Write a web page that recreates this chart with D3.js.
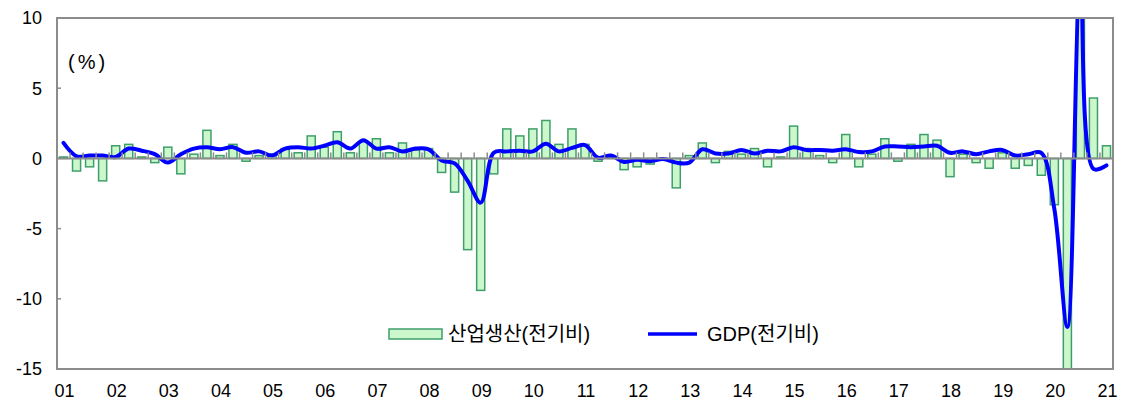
<!DOCTYPE html>
<html>
<head>
<meta charset="utf-8">
<script src="https://cdn.jsdelivr.net/npm/d3@7"></script>
<style>
  body { margin: 0; background: #fff; }
  text { font-family: "Liberation Sans", Arial, "Noto Sans CJK KR", sans-serif; }
</style>
</head>
<body>
<div id="chart"></div>
<script>
// year tick labels; one category per quarter from 2001Q1 to 2021Q1
const years = ['01','02','03','04','05','06','07','08','09','10','11','12','13','14','15','16','17','18','19','20','21'];
const quarters = years.flatMap(y => y === '21' ? [y + 'Q1'] : [1, 2, 3, 4].map(q => y + 'Q' + q));

// industrial production, q/q (%)
const ipValues = [
  0.1, -0.9, -0.6, -1.6,   0.9, 1.0, 0.1, -0.3,   0.8, -1.1, 0.3, 2.0,   0.2, 1.0, -0.2, 0.2,
  0.3, 0.7, 0.4, 1.6,      0.8, 1.9, 0.4, 1.2,    1.4, 0.4, 1.1, 0.6,    0.7, -1.0, -2.4, -6.5,
  -9.4, -1.1, 2.1, 1.6,    2.1, 2.7, 1.0, 2.1,    1.0, -0.2, 0.1, -0.8,  -0.6, -0.4, -0.1, -2.1,
  0.2, 1.1, -0.3, 0.5,     0.3, 0.7, -0.6, 0.1,   2.3, 0.7, 0.2, -0.3,   1.7, -0.6, 0.3, 1.4,
  -0.2, 1.0, 1.7, 1.3,     -1.3, 0.3, -0.3, -0.7, 0.4, -0.7, -0.5, -1.2, -3.3, -16.4, 14.5, 4.3,
  0.9
];

// GDP, q/q (%)
const gdpValues = [
  1.1, 0.15, 0.2, 0.2,     0.1, 0.7, 0.55, 0.3,   -0.3, 0.3, 0.7, 0.8,   0.65, 0.8, 0.4, 0.5,
  0.2, 0.7, 0.8, 0.7,      0.9, 1.15, 0.7, 1.3,   0.7, 0.8, 0.5, 0.7,    0.65, -0.15, -0.35, -1.6,
  -3.15, 0.4, 0.5, 0.55,   0.5, 1.05, 0.5, 0.75,  0.95, 0.05, 0.2, -0.25, -0.1, -0.2, -0.05, -0.3,
  -0.3, 0.65, 0.35, 0.35,  0.6, 0.35, 0.55, 0.5,  0.8, 0.6, 0.6, 0.55,   0.65, 0.45, 0.5, 0.85,
  0.85, 0.8, 0.85, 0.9,    0.4, 0.5, 0.3, 0.5,    0.6, 0.2, 0.3, 0.4,    -3.6, -12.0, 12.5, -0.75,
  -0.5
];

const yTicks = [10, 5, 0, -5, -10, -15];
const legendLabels = ['산업생산(전기비)', 'GDP(전기비)'];

const width = 1125;
const height = 403;
const margin = { top: 18, right: 12, bottom: 34, left: 57 };

const barFill = '#ccf7cc';
const barStroke = '#3f9f6b';
const lineColor = '#0000ff';
const axisColor = '#8c8c8c';

const x = d3.scaleBand()
  .domain(quarters)
  .range([margin.left, width - margin.right])
  .paddingInner(0.38)
  .paddingOuter(0.19);

const y = d3.scaleLinear()
  .domain([-15, 10])
  .range([height - margin.bottom, margin.top]);

const svg = d3.select('#chart').append('svg')
  .attr('width', width)
  .attr('height', height);

svg.append('defs').append('clipPath')
  .attr('id', 'plot-clip')
  .append('rect')
  .attr('x', margin.left)
  .attr('y', margin.top)
  .attr('width', width - margin.left - margin.right)
  .attr('height', height - margin.top - margin.bottom);

const plot = svg.append('g').attr('clip-path', 'url(#plot-clip)');

// bars
plot.append('g')
  .selectAll('rect')
  .data(ipValues)
  .join('rect')
  .attr('x', (d, i) => x(quarters[i]))
  .attr('width', x.bandwidth())
  .attr('y', d => y(Math.max(0, d)))
  .attr('height', d => Math.abs(y(d) - y(0)))
  .attr('fill', barFill)
  .attr('stroke', barStroke)
  .attr('stroke-width', 1.5);

// zero line with quarter ticks
const ticksX = d3.range(1, quarters.length).map(k => margin.left + k * (width - margin.left - margin.right) / quarters.length);

svg.append('g')
  .selectAll('line')
  .data(ticksX)
  .join('line')
  .attr('x1', d => d)
  .attr('x2', d => d)
  .attr('y1', y(0))
  .attr('y2', y(0) - 6)
  .attr('stroke', axisColor)
  .attr('stroke-width', 1.5);

svg.append('line')
  .attr('x1', margin.left)
  .attr('x2', width - margin.right)
  .attr('y1', y(0))
  .attr('y2', y(0))
  .attr('stroke', axisColor)
  .attr('stroke-width', 2);

// GDP line
const line = d3.line()
  .x((d, i) => x(quarters[i]) + x.bandwidth() / 2)
  .y(d => y(d))
  .curve(d3.curveCatmullRom.alpha(0.5));

plot.append('path')
  .datum(gdpValues)
  .attr('d', line)
  .attr('fill', 'none')
  .attr('stroke', lineColor)
  .attr('stroke-width', 4)
  .attr('stroke-linejoin', 'round')
  .attr('stroke-linecap', 'round');

// frame
svg.append('rect')
  .attr('x', margin.left)
  .attr('y', margin.top)
  .attr('width', width - margin.left - margin.right)
  .attr('height', height - margin.top - margin.bottom)
  .attr('fill', 'none')
  .attr('stroke', axisColor)
  .attr('stroke-width', 2);

// y ticks and labels
svg.append('g')
  .selectAll('line')
  .data(yTicks.filter(d => d !== 10 && d !== -15 && d !== 0))
  .join('line')
  .attr('x1', margin.left)
  .attr('x2', margin.left + 4)
  .attr('y1', d => y(d))
  .attr('y2', d => y(d))
  .attr('stroke', axisColor)
  .attr('stroke-width', 1.5);

svg.append('g')
  .selectAll('text')
  .data(yTicks)
  .join('text')
  .attr('x', 42)
  .attr('y', d => y(d))
  .attr('dy', '0.35em')
  .attr('text-anchor', 'end')
  .attr('font-size', 18)
  .text(d => d);

// x labels
svg.append('g')
  .selectAll('text')
  .data(years)
  .join('text')
  .attr('x', d => x(d + 'Q1') + x.bandwidth() / 2 + 1)
  .attr('y', 391)
  .attr('dy', '0.35em')
  .attr('text-anchor', 'middle')
  .attr('font-size', 18)
  .text(d => d);

svg.append('text')
  .attr('x', 68)
  .attr('y', 62)
  .attr('dy', '0.35em')
  .attr('font-size', 20)
  .attr('letter-spacing', 3)
  .text('(%)');

// legend
const legend = svg.append('g');
legend.append('rect')
  .attr('x', 389)
  .attr('y', 329)
  .attr('width', 53)
  .attr('height', 10)
  .attr('fill', barFill)
  .attr('stroke', barStroke)
  .attr('stroke-width', 1.5);
legend.append('text')
  .attr('x', 448)
  .attr('y', 334)
  .attr('dy', '0.35em')
  .attr('font-size', 20)
  .text(legendLabels[0]);
legend.append('line')
  .attr('x1', 648)
  .attr('x2', 697)
  .attr('y1', 334)
  .attr('y2', 334)
  .attr('stroke', lineColor)
  .attr('stroke-width', 3.5);
legend.append('text')
  .attr('x', 707)
  .attr('y', 334)
  .attr('dy', '0.35em')
  .attr('font-size', 20)
  .text(legendLabels[1]);
</script>
</body>
</html>
